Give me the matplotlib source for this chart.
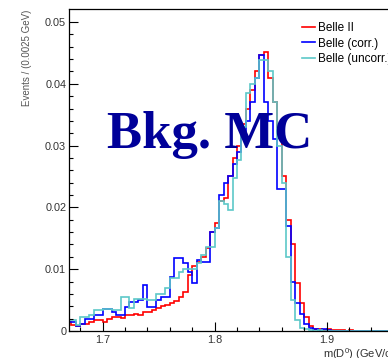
import numpy as np
import matplotlib
matplotlib.use("Agg")
import matplotlib.pyplot as plt

plt.rcParams['font.family'] = ['Liberation Sans', 'DejaVu Sans']
plt.rcParams['mathtext.default'] = 'regular'

# binning of the histograms (GeV)
bin_lo = 1.668
bin_w = 0.004

# Belle II (red)
belle2 = [0.0015, 0.0010, 0.0008, 0.0012, 0.0012, 0.0014, 0.0017, 0.0018, 0.0015, 0.0020,
          0.0022, 0.0022, 0.0021, 0.0026, 0.0026, 0.0027, 0.0026, 0.0030, 0.0031, 0.0034,
          0.0037, 0.0040, 0.0042, 0.0046, 0.0049, 0.0055, 0.0063, 0.0090, 0.0105, 0.0112,
          0.0120, 0.0135, 0.0160, 0.0175, 0.0210, 0.0215, 0.0250, 0.0280, 0.0300, 0.0335,
          0.0360, 0.0390, 0.0420, 0.0447, 0.0452, 0.0410, 0.0370, 0.0330, 0.0250, 0.0180,
          0.0140, 0.0078, 0.0045, 0.0023, 0.0008, 0.0004, 0.0003, 0.0002, 0.0003, 0.0002,
          0.0001, 0.0002, 0.0, 0.0001, 0.0, 0.0, 0.0, 0.0, 0.0, 0.0, 0.0, 0.0, 0.0, 0.0]

# Belle (corr.) (blue)
belle_corr = [0.0015, 0.0015, 0.0008, 0.0012, 0.0020, 0.0020, 0.0026, 0.0026, 0.0035, 0.0035,
              0.0030, 0.0026, 0.0026, 0.0039, 0.0047, 0.0047, 0.0050, 0.0075, 0.0039, 0.0039,
              0.0050, 0.0055, 0.0055, 0.0088, 0.0118, 0.0118, 0.0110, 0.0095, 0.0078, 0.0115,
              0.0112, 0.0112, 0.0160, 0.0167, 0.0220, 0.0240, 0.0250, 0.0270, 0.0290, 0.0320,
              0.0340, 0.0370, 0.0410, 0.0447, 0.0370, 0.0340, 0.0310, 0.0230, 0.0230, 0.0170,
              0.0080, 0.0045, 0.0028, 0.0012, 0.0005, 0.0003, 0.0002, 0.0004, 0.0001, 0.0,
              0.0, 0.0, 0.0, 0.0, 0.0, 0.0, 0.0, 0.0, 0.0, 0.0, 0.0, 0.0, 0.0, 0.0]

# Belle (uncorr.) (cyan)
belle_uncorr = [0.0018, 0.0018, 0.0010, 0.0022, 0.0022, 0.0026, 0.0034, 0.0034, 0.0036, 0.0036,
                0.0034, 0.0034, 0.0055, 0.0055, 0.0038, 0.0052, 0.0052, 0.0052, 0.0050, 0.0050,
                0.0060, 0.0060, 0.0070, 0.0086, 0.0086, 0.0095, 0.0101, 0.0101, 0.0100, 0.0110,
                0.0123, 0.0136, 0.0136, 0.0167, 0.0210, 0.0205, 0.0196, 0.0247, 0.0277, 0.0330,
                0.0385, 0.0400, 0.0410, 0.0438, 0.0438, 0.0420, 0.0370, 0.0300, 0.0240, 0.0120,
                0.0050, 0.0018, 0.0005, 0.0003, 0.0002, 0.0, 0.0002, 0.0, 0.0, 0.0,
                0.0, 0.0, 0.0, 0.0, 0.0, 0.0, 0.0, 0.0, 0.0, 0.0, 0.0, 0.0, 0.0, 0.0]

labels = ['Belle II', 'Belle (corr.)', 'Belle (uncorr.)']
colors = ['#ff0000', '#0000ff', '#5cc8c8']

edges = bin_lo + bin_w * np.arange(len(belle2) + 1)

W, H = 388, 358
fig = plt.figure(figsize=(W / 100, H / 100), dpi=100)
# axes run past the right border, as in the cropped original
ax = fig.add_axes([69 / W, 27 / H, 369.6 / W, 322 / H])

for vals, col, lab in zip([belle2, belle_corr, belle_uncorr], colors, labels):
    ax.stairs(vals, edges, color=col, lw=1.2, label=lab)

ax.set_xlim(1.67, 2.0)
ax.set_ylim(0, 0.0521)
ax.set_xticks([1.7, 1.8, 1.9])
ax.set_xticklabels(['1.7', '1.8', '1.9'])
ax.set_xticks(np.arange(1.68, 2.0, 0.02), minor=True)
ax.set_yticks([0, 0.01, 0.02, 0.03, 0.04, 0.05])
ax.set_yticklabels(['0', '0.01', '0.02', '0.03', '0.04', '0.05'])
ax.set_yticks(np.arange(0, 0.052, 0.002), minor=True)
ax.tick_params(which='both', direction='in', top=False, right=False,
               labelsize=7.8, labelcolor='#333333', width=0.8)
ax.tick_params(which='major', length=6.5)
ax.tick_params(which='minor', length=3.2)
ax.tick_params(axis='y', pad=2)
ax.tick_params(axis='x', pad=3)
for sp in ax.spines.values():
    sp.set_linewidth(0.9)

ax.legend(loc='upper left', bbox_to_anchor=(302 / W, 1 - 22 / H),
          bbox_transform=fig.transFigure, frameon=False, fontsize=8.5,
          handlelength=1.1, handletextpad=0.25, labelspacing=0.3, borderpad=0,
          borderaxespad=0)

fig.text(27 / W, 1 - 10 / H, 'Events / (0.0025 GeV)', rotation=90,
         ha='center', va='top', fontsize=7, color='#555555')
fig.text(323 / W, 1 - 346 / H, 'm(D$^{0}$) (GeV/c$^{2}$)', ha='left',
         va='top', fontsize=8, color='#333333')

fig.text(210 / W, 1 - 148 / H, 'Bkg. MC', ha='center', va='baseline',
         fontsize=38, fontweight='bold', color='#000099',
         family=['Liberation Serif', 'DejaVu Serif'])

fig.savefig('out.png', dpi=100)
